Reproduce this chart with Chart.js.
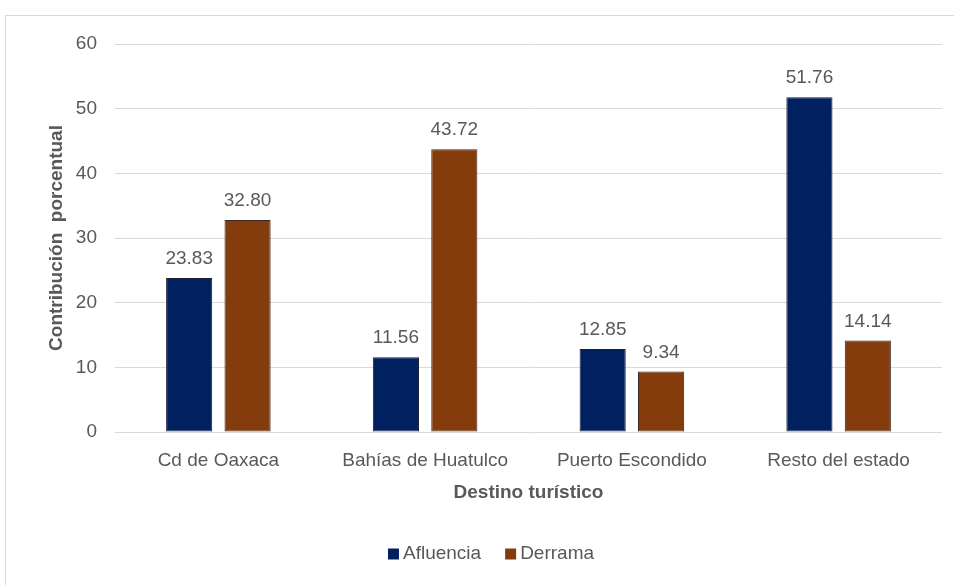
<!DOCTYPE html>
<html>
<head>
<meta charset="utf-8">
<script src="https://cdn.jsdelivr.net/npm/chart.js@4"></script>
<style>
  html, body { margin: 0; padding: 0; background: #fff; }
  #wrap { position: relative; width: 954px; height: 585px; overflow: hidden; }
  #frame { position: absolute; left: 5px; top: 15px; width: 1000px; height: 700px; border: 1px solid #d9d9d9; }
  canvas { position: absolute; left: 0; top: 0; }
</style>
</head>
<body>
<div id="wrap">
  <div id="frame"></div>
  <canvas id="chart" width="954" height="585"></canvas>
</div>
<script>
const categories = ['Cd de Oaxaca', 'Bahías de Huatulco', 'Puerto Escondido', 'Resto del estado'];
const afluencia = [23.83, 11.56, 12.85, 51.76];
const derrama = [32.80, 43.72, 9.34, 14.14];
const yMin = 0, yMax = 60, yStep = 10;

const textColor = '#595959';
const fontFamily = '"Liberation Sans", Arial, sans-serif';

// value labels above each bar
const barLabels = {
    id: 'barLabels',
    afterDatasetsDraw(chart) {
        const ctx = chart.ctx;
        ctx.save();
        ctx.font = '19px ' + fontFamily;
        ctx.fillStyle = textColor;
        ctx.textAlign = 'center';
        ctx.textBaseline = 'alphabetic';
        chart.data.datasets.forEach((ds, i) => {
            chart.getDatasetMeta(i).data.forEach((bar, j) => {
                ctx.fillText(ds.data[j].toFixed(2), bar.x, bar.y - 14);
            });
        });
        ctx.restore();
    }
};

// legend drawn by hand so the box/text spacing matches
const bottomLegend = {
    id: 'bottomLegend',
    afterDraw(chart) {
        const ctx = chart.ctx;
        ctx.save();
        ctx.font = '19px ' + fontFamily;
        ctx.textBaseline = 'middle';
        const box = 11, gap = 4, spacing = 24;
        const items = chart.data.datasets.map(ds => ({
            label: ds.label, color: ds.backgroundColor, w: ctx.measureText(ds.label).width
        }));
        let total = 0;
        items.forEach((it, i) => { total += box + gap + it.w + (i ? spacing : 0); });
        let x = 491 - total / 2;
        const y = 554;
        items.forEach(it => {
            ctx.fillStyle = it.color;
            ctx.fillRect(x, y - box / 2, box, box);
            ctx.fillStyle = textColor;
            ctx.textAlign = 'left';
            ctx.fillText(it.label, x + box + gap, y);
            x += box + gap + it.w + spacing;
        });
        ctx.restore();
    }
};

const ctx = document.getElementById('chart').getContext('2d');
new Chart(ctx, {
    type: 'bar',
    data: {
        labels: categories,
        datasets: [
            {
                label: 'Afluencia',
                data: afluencia,
                backgroundColor: '#002060',
                borderColor: '#1f1f33',
                borderWidth: 1,
                borderSkipped: false,
                categoryPercentage: 0.565,
                barPercentage: 0.79
            },
            {
                label: 'Derrama',
                data: derrama,
                backgroundColor: '#843C0C',
                borderColor: '#3a2a22',
                borderWidth: 1,
                borderSkipped: false,
                categoryPercentage: 0.565,
                barPercentage: 0.79
            }
        ]
    },
    options: {
        responsive: false,
        animation: false,
        layout: { padding: { left: 41, right: 12, top: 44, bottom: 77 } },
        plugins: {
            legend: { display: false },
            tooltip: { enabled: false }
        },
        scales: {
            x: {
                grid: { display: false },
                border: { display: false },
                ticks: {
                    color: textColor,
                    font: { family: fontFamily, size: 19 },
                    padding: 9,
                    maxRotation: 0
                },
                title: {
                    display: true,
                    text: 'Destino turístico',
                    color: textColor,
                    font: { family: fontFamily, size: 19, weight: 'bold' }
                },
                afterFit(scale) { scale.height = 76; }
            },
            y: {
                min: yMin,
                max: yMax,
                grid: { color: '#d9d9d9', lineWidth: 1, drawTicks: false },
                border: { display: false },
                ticks: {
                    stepSize: yStep,
                    color: textColor,
                    font: { family: fontFamily, size: 19 },
                    padding: 18
                },
                title: {
                    display: true,
                    text: 'Contribución  porcentual',
                    color: textColor,
                    font: { family: fontFamily, size: 19, weight: 'bold' }
                },
                afterFit(scale) { scale.width = 74; }
            }
        }
    },
    plugins: [barLabels, bottomLegend]
});
</script>
</body>
</html>
